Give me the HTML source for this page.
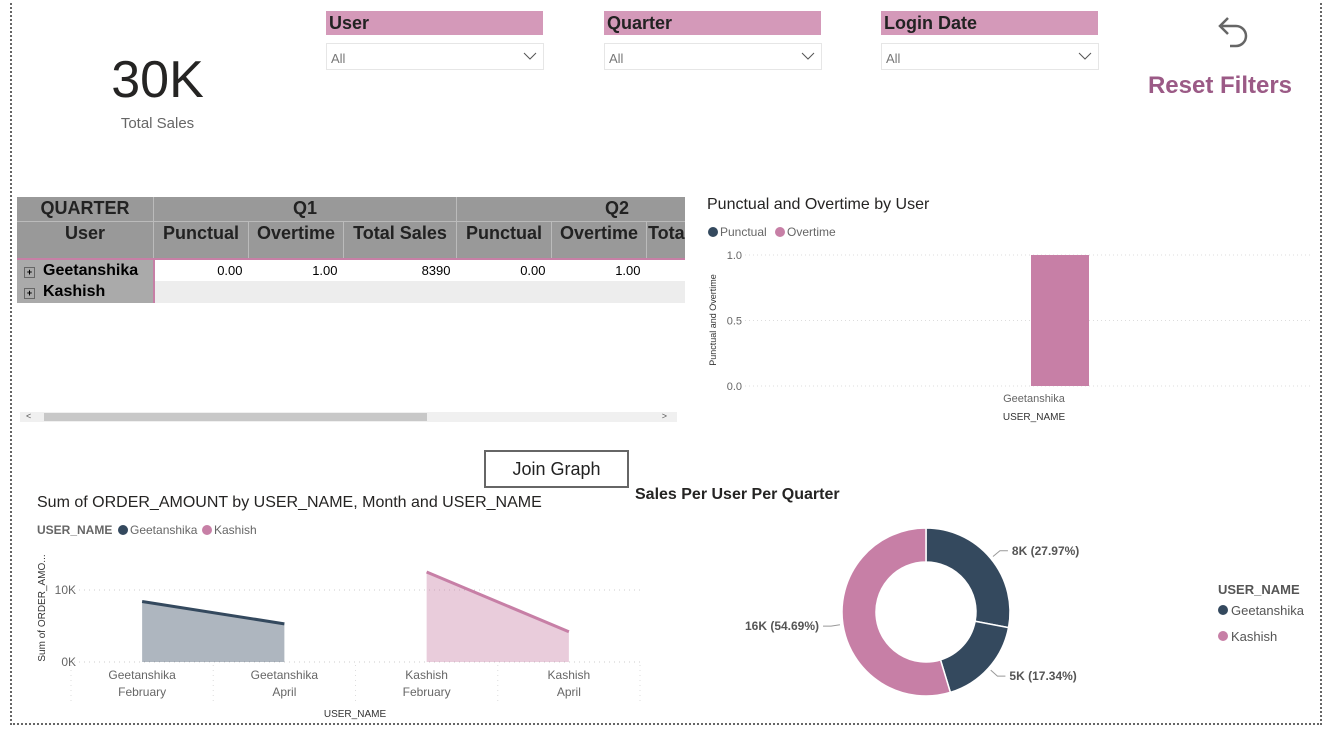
<!DOCTYPE html>
<html><head><meta charset="utf-8"><style>
body{margin:0;width:1335px;height:735px;background:#fff;font-family:"Liberation Sans",sans-serif;position:relative;overflow:hidden}
.abs{position:absolute}
.slhead{position:absolute;height:24px;background:#d499b9;font-weight:bold;font-size:18px;color:#222;padding-left:3px;line-height:24px;box-sizing:border-box;width:217px}
.sldrop{position:absolute;height:27px;border:1px solid #e6e6e6;width:218px;box-sizing:border-box;font-size:13px;color:#777;padding:7px 0 0 4px}
.sldrop svg{position:absolute;right:6px;top:8px}
table{border-collapse:collapse;font-size:18px}
</style></head><body>
<div class="abs" style="left:10px;top:-2px;width:1312px;height:727px;border:2px dotted #666;box-sizing:border-box"></div>

<div class="abs" style="left:60px;top:50px;width:195px;text-align:center;font-size:52px;color:#252423">30K</div>
<div class="abs" style="left:60px;top:115px;width:195px;text-align:center;font-size:15px;color:#666">Total Sales</div>

<div class="slhead" style="left:326px;top:11px">User</div>
<div class="sldrop" style="left:326px;top:43px">All<svg width="14" height="9"><path d="M1 1L7 7L13 1" stroke="#555" fill="none"/></svg></div>
<div class="slhead" style="left:604px;top:11px">Quarter</div>
<div class="sldrop" style="left:604px;top:43px">All<svg width="14" height="9"><path d="M1 1L7 7L13 1" stroke="#555" fill="none"/></svg></div>
<div class="slhead" style="left:881px;top:11px">Login Date</div>
<div class="sldrop" style="left:881px;top:43px">All<svg width="14" height="9"><path d="M1 1L7 7L13 1" stroke="#555" fill="none"/></svg></div>

<svg class="abs" style="left:1212px;top:12px" width="40" height="40"><path d="M10 14 H24 A10 10 0 0 1 24 34 H18" stroke="#666" stroke-width="2.5" fill="none"/><path d="M16 6 L8 14 L16 22" stroke="#666" stroke-width="2.5" fill="none"/></svg>
<div class="abs" style="left:1140px;top:72px;width:160px;text-align:center;font-size:24px;font-weight:bold;color:#9b5a86">Reset Filters</div>

<div class="abs" style="left:17px;top:197px;width:668px;height:112px;overflow:hidden">
<table style="width:760px">
<tr style="background:#999;font-weight:bold;color:#222;height:24px;border-bottom:1px solid #bbb"><td style="width:134px;text-align:center;border-right:1px solid #bbb">QUARTER</td><td colspan="3" style="text-align:center;border-right:1px solid #bbb">Q1</td><td colspan="3" style="text-align:center">Q2</td></tr>
<tr style="background:#999;font-weight:bold;color:#222;height:38px;vertical-align:top"><td style="text-align:center;border-right:1px solid #bbb">User</td><td style="width:92px;border-right:1px solid #bbb;text-align:center">Punctual</td><td style="width:92px;border-right:1px solid #bbb;text-align:center">Overtime</td><td style="width:110px;border-right:1px solid #bbb;text-align:center">Total Sales</td><td style="width:92px;border-right:1px solid #bbb;text-align:center">Punctual</td><td style="width:92px;border-right:1px solid #bbb;text-align:center">Overtime</td><td>Total Sales</td></tr>
<tr style="height:22px;font-size:13px;border-top:2px solid #c77fa6"><td style="background:#aaa;font-size:16px;font-weight:bold;border-right:2px solid #c77fa6"><span style="display:inline-block;width:9px;height:9px;border:1px solid #666;font-size:9px;line-height:9px;text-align:center;margin:0 8px 0 6px">+</span>Geetanshika</td><td style="text-align:right;padding-right:6px">0.00</td><td style="text-align:right;padding-right:6px">1.00</td><td style="text-align:right;padding-right:6px">8390</td><td style="text-align:right;padding-right:6px">0.00</td><td style="text-align:right;padding-right:6px">1.00</td><td></td></tr>
<tr style="height:22px;background:#ededed"><td style="background:#aaa;font-size:16px;font-weight:bold;border-right:2px solid #c77fa6"><span style="display:inline-block;width:9px;height:9px;border:1px solid #666;font-size:9px;line-height:9px;text-align:center;margin:0 8px 0 6px">+</span>Kashish</td><td></td><td></td><td></td><td></td><td></td><td></td></tr>
</table></div>
<div class="abs" style="left:20px;top:412px;width:657px;height:10px;background:#f0f0f0;font-size:9px;color:#555"><span style="position:absolute;left:6px;top:-1px">&lt;</span><div style="position:absolute;left:24px;top:1px;width:383px;height:8px;background:#c8c8c8"></div><span style="position:absolute;right:10px;top:-1px">&gt;</span></div>

<div class="abs" style="left:484px;top:450px;width:145px;height:38px;border:2px solid #666;box-sizing:border-box;text-align:center;font-size:18px;line-height:34px;color:#222">Join Graph</div>

<svg class="abs" id="bar" style="left:0;top:0" width="1335" height="735"></svg>
<svg class="abs" id="area" style="left:0;top:0" width="1335" height="735"></svg>
<svg class="abs" id="donut" style="left:0;top:0" width="1335" height="735"></svg>

<script>
const NS="http://www.w3.org/2000/svg";
function mk(p,t,a,txt){const e=document.createElementNS(NS,t);for(const k in a)e.setAttribute(k,a[k]);if(txt!=null)e.textContent=txt;p.appendChild(e);return e;}
// ---- bar chart data
const barCats=["Geetanshika"];
const punctualVals=[0];
const overtimeVals=[1];
const barTicks=[0,0.5,1.0];
// ---- area chart data
const areaCats=[["Geetanshika","February"],["Geetanshika","April"],["Kashish","February"],["Kashish","April"]];
const areaGroup=[0,0,1,1];
const areaVals=[8400,5300,12500,4200];
const areaTicks=[0,10000];
const areaTickLabels=["0K","10K"];
// ---- donut data
const donutVals=[8390,5200,16400];
const donutLabels=["8K (27.97%)","5K (17.34%)","16K (54.69%)"];
const donutColorIdx=[0,0,1];
const users=["Geetanshika","Kashish"];
const COL=["#34495e","#c77fa6"];

// Bar chart
(function(){const s=document.getElementById('bar');
const t=mk(s,'text',{x:707,y:209,'font-size':16,fill:'#252423'},'Punctual and Overtime by User');
[["Punctual",COL[0],708],["Overtime",COL[1],775]].forEach(l=>{const g=mk(s,'g',{});mk(g,'circle',{cx:l[2]+5,cy:232,r:5,fill:l[1]});mk(g,'text',{x:l[2]+12,y:236,'font-size':12,fill:'#666'},l[0]);});
const y0=386,y1=255,x0=745,x1=1312;const y=v=>y0-(v/1)*(y0-y1);
barTicks.forEach(v=>{mk(s,'line',{x1:x0,x2:x1,y1:y(v),y2:y(v),stroke:'#ddd','stroke-dasharray':'1,3'});const tl=mk(s,'text',{x:742,y:y(v)+4,'font-size':11,fill:'#666','text-anchor':'end'},v.toFixed(1));});
const yt=mk(s,'text',{transform:'translate(716,320) rotate(-90)','font-size':9,fill:'#333','text-anchor':'middle'},'Punctual and Overtime');
const bw=(x1-x0)/barCats.length;
barCats.forEach((c,i)=>{const cx=x0+bw*(i+0.5)+(1060-(x0+bw/2));const w=29;
const r1=mk(s,'rect',{x:cx-2*w,y:y(punctualVals[i]),width:w*2,height:y0-y(punctualVals[i]),fill:COL[0]});
const r2=mk(s,'rect',{x:cx-w,y:y(overtimeVals[i]),width:w*2,height:y0-y(overtimeVals[i]),fill:COL[1]});
const xl=mk(s,'text',{x:cx-26,y:402,'font-size':11,fill:'#666','text-anchor':'middle'},c);});
const xt=mk(s,'text',{x:1034,y:420,'font-size':10,fill:'#333','text-anchor':'middle'},'USER_NAME');
})();

// Area chart
(function(){const s=document.getElementById('area');
const t=mk(s,'text',{x:37,y:507,'font-size':16,fill:'#252423'},'Sum of ORDER_AMOUNT by USER_NAME, Month and USER_NAME');
mk(s,'text',{x:37,y:534,'font-size':12,fill:'#666','font-weight':'bold'},'USER_NAME');
[[users[0],COL[0],118],[users[1],COL[1],202]].forEach(l=>{const g=mk(s,'g',{});mk(g,'circle',{cx:l[2]+5,cy:530,r:5,fill:l[1]});mk(g,'text',{x:l[2]+12,y:534,'font-size':12,fill:'#666'},l[0]);});
const y0=662,yk=7.2/1000;const y=v=>y0-v*yk;const x0=71,x1=640;const step=(x1-x0)/areaCats.length;const x=i=>x0+step*(i+0.5);
areaTicks.forEach((v,i)=>{mk(s,'line',{x1:74,x2:x1,y1:y(v),y2:y(v),stroke:'#ccc','stroke-dasharray':'1,4'});const tl=mk(s,'text',{x:76,y:y(v)+4,'font-size':12,fill:'#666','text-anchor':'end'},areaTickLabels[i]);});
for(let i=0;i<=areaCats.length;i++)mk(s,'line',{x1:x0+step*i,x2:x0+step*i,y1:665,y2:703,stroke:'#ddd','stroke-dasharray':'1,4'});
const yt=mk(s,'text',{transform:'translate(45,608) rotate(-90)','font-size':10,fill:'#333','text-anchor':'middle'},'Sum of ORDER_AMO...');
[0,1].forEach(gi=>{const idx=areaGroup.map((g,i)=>g===gi?i:-1).filter(i=>i>=0);
let d='M'+x(idx[0])+','+y0;idx.forEach(i=>d+=' L'+x(i)+','+y(areaVals[i]));d+=' L'+x(idx[idx.length-1])+','+y0+'Z';
const a=mk(s,'path',{d,fill:COL[gi],'fill-opacity':0.4});
const l=mk(s,'polyline',{points:idx.map(i=>x(i)+','+y(areaVals[i])).join(' '),fill:'none',stroke:COL[gi],'stroke-width':3});});
areaCats.forEach((c,i)=>{const tl=mk(s,'text',{x:x(i),y:679,'font-size':12,fill:'#666','text-anchor':'middle'},c[0]);mk(s,'text',{x:x(i),y:696,'font-size':12,fill:'#666','text-anchor':'middle'},c[1]);});
const xt=mk(s,'text',{x:355,y:717,'font-size':10,fill:'#333','text-anchor':'middle'},'USER_NAME');
})();

// Donut
(function(){const s=document.getElementById('donut');
const t=mk(s,'text',{x:635,y:499,'font-size':16,'font-weight':'bold',fill:'#252423'},'Sales Per User Per Quarter');
const cx=926,cy=612,R=84,r=50;const tot=donutVals.reduce((a,b)=>a+b,0);let a0=-Math.PI/2;
const P=(rad,a)=>[cx+rad*Math.cos(a),cy+rad*Math.sin(a)];
donutVals.forEach((v,i)=>{const a1=a0+v/tot*2*Math.PI;const lg=(a1-a0)>Math.PI?1:0;
const [x1,y1]=P(R,a0),[x2,y2]=P(R,a1),[x3,y3]=P(r,a1),[x4,y4]=P(r,a0);
const p=mk(s,'path',{d:`M${x1},${y1} A${R},${R} 0 ${lg} 1 ${x2},${y2} L${x3},${y3} A${r},${r} 0 ${lg} 0 ${x4},${y4}Z`,fill:COL[donutColorIdx[i]],stroke:'#fff','stroke-width':1.5});
const am=(a0+a1)/2;const [lx,ly]=P(R+3,am);const [ex,ey]=P(R+12,am);const right=Math.cos(am)>0;const hx=ex+(right?8:-8);
mk(s,'polyline',{points:`${lx},${ly} ${ex},${ey} ${hx},${ey}`,fill:'none',stroke:'#999'});
const tl=mk(s,'text',{x:hx+(right?4:-4),y:ey+4,'font-size':12,'font-weight':'bold',fill:'#555','text-anchor':right?'start':'end'},donutLabels[i]);
a0=a1;});
mk(s,'text',{x:1218,y:594,'font-size':13,'font-weight':'bold',fill:'#555'},'USER_NAME');
users.forEach((u,i)=>{const g=mk(s,'g',{});mk(g,'circle',{cx:1223,cy:610+i*26,r:5,fill:COL[i]});mk(g,'text',{x:1231,y:615+i*26,'font-size':13,fill:'#555'},u);});
})();
</script>
</body></html>
